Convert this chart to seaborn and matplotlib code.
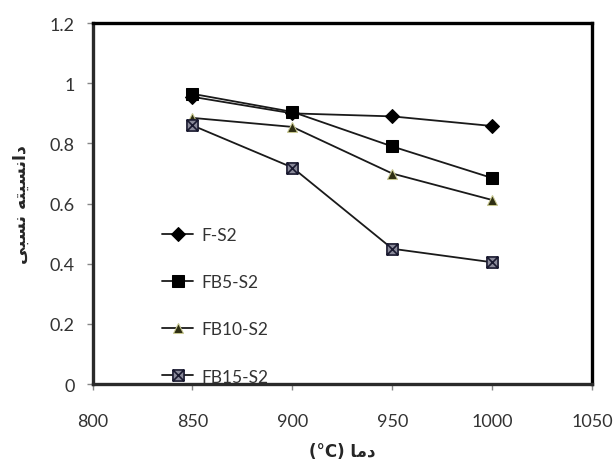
import numpy as np
import pandas as pd
import seaborn as sns
import matplotlib.pyplot as plt
from matplotlib.path import Path

temps = [850, 900, 950, 1000]
f_s2 = [0.955, 0.900, 0.890, 0.858]
fb5_s2 = [0.965, 0.905, 0.790, 0.685]
fb10_s2 = [0.885, 0.855, 0.700, 0.612]
fb15_s2 = [0.860, 0.720, 0.450, 0.405]
series_names = ['F-S2', 'FB5-S2', 'FB10-S2', 'FB15-S2']

x_ticks = [800, 850, 900, 950, 1000, 1050]
y_ticks = [0, 0.2, 0.4, 0.6, 0.8, 1.0, 1.2]
y_tick_labels = ['0', '0.2', '0.4', '0.6', '0.8', '1', '1.2']

# Persian labels written as presentation forms in visual order (matplotlib does no shaping)
ylabel_txt = '\ufef0\ufe92\ufeb4\ufee7 \ufeea\ufe98\ufef4\ufeb4\ufee7\ufe8d\ufea9'   # دانسیته نسبی
xlabel_txt = '(\u00b0C) \ufe8e\ufee3\ufea9'                                          # دما (°C)

df = pd.DataFrame({
    'temp': temps * 4,
    'density': f_s2 + fb5_s2 + fb10_s2 + fb15_s2,
    'sample': np.repeat(series_names, len(temps)),
})

# square with an X through it, like the Excel marker
box_x = Path([(-1, -1), (1, -1), (1, 1), (-1, 1), (-1, -1), (-1, -1), (1, 1), (-1, 1), (1, -1)],
             [Path.MOVETO, Path.LINETO, Path.LINETO, Path.LINETO, Path.CLOSEPOLY,
              Path.MOVETO, Path.LINETO, Path.MOVETO, Path.LINETO])

styles = {
    'F-S2': dict(marker='D', markersize=7, markerfacecolor='black', markeredgecolor='black'),
    'FB5-S2': dict(marker='s', markersize=9, markerfacecolor='black', markeredgecolor='black'),
    'FB10-S2': dict(marker='^', markersize=7, markerfacecolor='#2e2e12', markeredgecolor='#c8c890'),
    'FB15-S2': dict(marker=box_x, markersize=8, markerfacecolor='#8a8a9a', markeredgecolor='#1a1a30',
                    markeredgewidth=1.2),
}

sns.set_style('white')
plt.rcParams['font.family'] = ['Lato', 'DejaVu Sans']

fig = plt.figure(figsize=(6.13, 4.64), dpi=100)
ax = fig.add_axes([0.151, 0.170, 0.815, 0.778])

for name in series_names:
    sub = df[df['sample'] == name]
    sns.lineplot(data=sub, x='temp', y='density', ax=ax, color='#1a1a1a', linewidth=1.3,
                 label=name, **styles[name])

ax.set_xlim(800, 1050)
ax.set_ylim(0, 1.2)
ax.set_xticks(x_ticks)
ax.set_yticks(y_ticks)
ax.set_yticklabels(y_tick_labels)
ax.tick_params(axis='both', labelsize=13, labelcolor='#333333', color='#888888',
               length=4, width=1, direction='out')
ax.tick_params(axis='x', pad=17)
ax.tick_params(axis='y', pad=9)
ax.tick_params(bottom=True, left=True)

for side in ['top', 'right']:
    ax.spines[side].set_linewidth(2.4)
    ax.spines[side].set_color('black')
for side in ['left', 'bottom']:
    ax.spines[side].set_linewidth(2.4)
    ax.spines[side].set_color('#2a2a2a')

ax.set_ylabel(ylabel_txt, family=['DejaVu Sans'], fontweight='bold', fontsize=12.5, labelpad=14)
ax.set_xlabel(xlabel_txt, family=['DejaVu Sans'], fontweight='bold', fontsize=12, labelpad=9)

ax.legend(loc='upper left', bbox_to_anchor=(0.125, 0.455), frameon=False, fontsize=12.5,
          labelspacing=1.8, handlelength=1.8, handletextpad=0.45, labelcolor='#333333',
          borderaxespad=0)

fig.savefig('out.png', dpi=100, facecolor='white')
